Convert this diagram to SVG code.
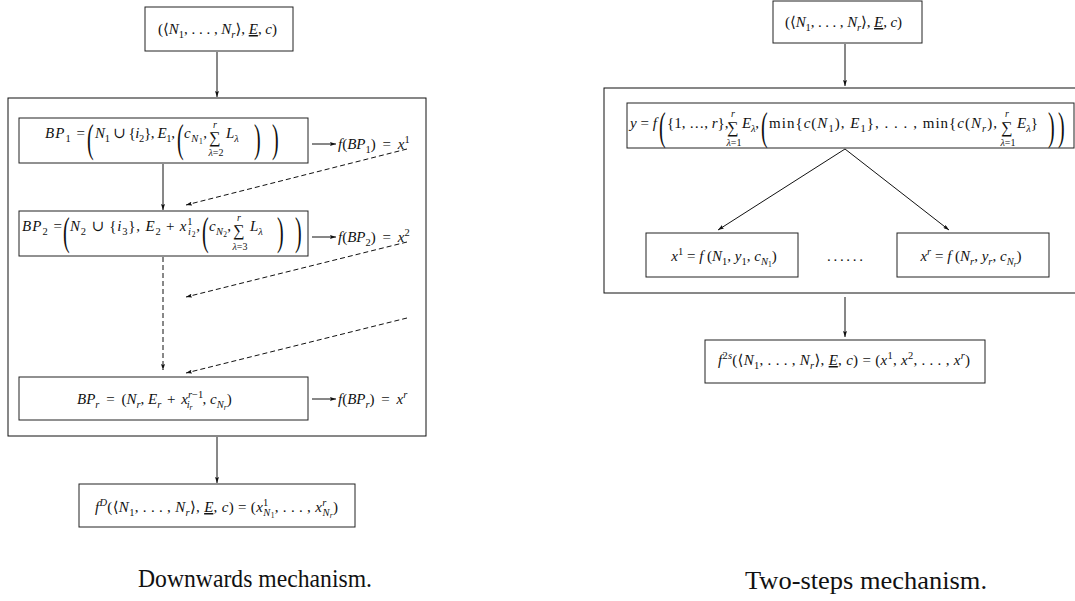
<svg xmlns="http://www.w3.org/2000/svg" width="1075" height="601" viewBox="0 0 1075 601">
<style>
.m{font-family:"Liberation Serif","DejaVu Serif",serif;font-size:15px;fill:#111}
.i{font-style:italic}
.s{font-size:10.5px}
.t{font-size:7.5px}
.lim{font-size:10px;text-anchor:middle}
.sum{font-size:16px;text-anchor:middle}
.big{font-size:40px}
.c{text-anchor:middle}
.box{fill:#fff;stroke:#222;stroke-width:1}
.ob{fill:none;stroke:#111;stroke-width:1}
.ln{stroke:#111;stroke-width:1;fill:none}
.d{stroke-dasharray:5 3}
.cap{font-family:"Liberation Serif","DejaVu Serif",serif;font-size:25px;fill:#111}
</style>
<defs>
<marker id="a" viewBox="0 0 6 4" refX="6" refY="2" markerWidth="6" markerHeight="4" markerUnits="userSpaceOnUse" orient="auto"><path d="M0,0 L6,2 L0,4 L1,2z" fill="#111"/></marker>
</defs>

<g id="left-outer"><rect class="ob" x="8" y="98" width="418" height="338"/></g>
<g id="right-outer"><rect class="ob" x="604" y="88" width="480" height="205"/></g>

<g id="connectors">
<line class="ln" x1="217" y1="52" x2="217" y2="97" marker-end="url(#a)"/>
<line class="ln" x1="163" y1="164" x2="163" y2="210" marker-end="url(#a)"/>
<line class="ln" x1="312" y1="144" x2="336" y2="144" marker-end="url(#a)"/>
<line class="ln" x1="312" y1="237" x2="336" y2="237" marker-end="url(#a)"/>
<line class="ln" x1="312" y1="399" x2="336" y2="399" marker-end="url(#a)"/>
<line class="ln d" x1="407" y1="149" x2="186" y2="205" marker-end="url(#a)"/>
<line class="ln d" x1="407" y1="242" x2="186" y2="297" marker-end="url(#a)"/>
<line class="ln d" x1="163" y1="257" x2="163" y2="370" marker-end="url(#a)"/>
<line class="ln d" x1="407" y1="318" x2="186" y2="373" marker-end="url(#a)"/>
<line class="ln" x1="217" y1="437" x2="217" y2="483" marker-end="url(#a)"/>
<line class="ln" x1="845" y1="44" x2="845" y2="86" marker-end="url(#a)"/>
<line class="ln" x1="845" y1="149" x2="718" y2="230" marker-end="url(#a)"/>
<line class="ln" x1="845" y1="149" x2="949" y2="230" marker-end="url(#a)"/>
<line class="ln" x1="845" y1="297" x2="845" y2="337" marker-end="url(#a)"/>
</g>

<g id="l-input">
<rect class="box" x="145" y="7" width="148" height="44"/>
<text class="m" x="158" y="34" textLength="119">(⟨<tspan class="i">N</tspan><tspan class="s" dy="4">1</tspan><tspan dy="-4">, . . . , </tspan><tspan class="i">N</tspan><tspan class="s i" dy="4">r</tspan><tspan dy="-4">⟩, </tspan><tspan class="i" text-decoration="underline">E</tspan>, <tspan class="i">c</tspan>)</text>
</g>

<g id="bp1">
<rect class="box" x="19" y="118" width="289" height="45"/>
<text class="m" x="45" y="138" textLength="40"><tspan class="i">BP</tspan><tspan class="s" dy="4">1</tspan><tspan dy="-4"> =</tspan></text>
<text class="m big" transform="translate(87,152) scale(0.5,1)">(</text>
<text class="m" x="95" y="138" textLength="80"><tspan class="i">N</tspan><tspan class="s" dy="4">1</tspan><tspan dy="-4"> ∪ {</tspan><tspan class="i">i</tspan><tspan class="s" dy="4">2</tspan><tspan dy="-4">}, </tspan><tspan class="i">E</tspan><tspan class="s" dy="4">1</tspan><tspan dy="-4">,</tspan></text>
<text class="m big" transform="translate(177,152) scale(0.5,1)">(</text>
<text class="m" x="184" y="138" textLength="23"><tspan class="i">c</tspan><tspan class="s i" dy="4">N</tspan><tspan class="t" dy="2">1</tspan><tspan dy="-6">,</tspan></text>
<text class="m sum" x="215" y="143">∑</text>
<text class="m lim i" x="215" y="128">r</text>
<text class="m lim" x="216" y="156"><tspan class="i">λ</tspan>=2</text>
<text class="m" x="226" y="138"><tspan class="i">L</tspan><tspan class="s i" dy="4">λ</tspan></text>
<text class="m big" transform="translate(254,152) scale(0.5,1)">)</text>
<text class="m big" transform="translate(272,152) scale(0.5,1)">)</text>
</g>
<g id="fbp1"><text class="m" x="338" y="149"><tspan class="i">f</tspan>(<tspan class="i">BP</tspan><tspan class="s" dy="4">1</tspan><tspan dy="-4">)</tspan><tspan dx="3"> = </tspan><tspan class="i" dx="3">x</tspan><tspan class="s" dy="-6">1</tspan></text></g>

<g id="bp2">
<rect class="box" x="19" y="211" width="289" height="45"/>
<text class="m" x="22" y="231" textLength="40"><tspan class="i">BP</tspan><tspan class="s" dy="4">2</tspan><tspan dy="-4"> =</tspan></text>
<text class="m big" transform="translate(63,245) scale(0.5,1)">(</text>
<text class="m" x="70" y="231" textLength="130"><tspan class="i">N</tspan><tspan class="s" dy="4">2</tspan><tspan dy="-4"> ∪ {</tspan><tspan class="i">i</tspan><tspan class="s" dy="4">3</tspan><tspan dy="-4">}, </tspan><tspan class="i">E</tspan><tspan class="s" dy="4">2</tspan><tspan dy="-4"> + </tspan><tspan class="i">x</tspan><tspan class="s" dy="-6">1</tspan><tspan class="s i" dx="-5.3" dy="10">i</tspan><tspan class="t" dy="2">2</tspan><tspan dy="-6">,</tspan></text>
<text class="m big" transform="translate(202,245) scale(0.5,1)">(</text>
<text class="m" x="209" y="231" textLength="22"><tspan class="i">c</tspan><tspan class="s i" dy="4">N</tspan><tspan class="t" dy="2">2</tspan><tspan dy="-6">,</tspan></text>
<text class="m sum" x="239" y="236">∑</text>
<text class="m lim i" x="239" y="221">r</text>
<text class="m lim" x="240" y="250"><tspan class="i">λ</tspan>=3</text>
<text class="m" x="250" y="231"><tspan class="i">L</tspan><tspan class="s i" dy="4">λ</tspan></text>
<text class="m big" transform="translate(277,245) scale(0.5,1)">)</text>
<text class="m big" transform="translate(295,245) scale(0.5,1)">)</text>
</g>
<g id="fbp2"><text class="m" x="338" y="242"><tspan class="i">f</tspan>(<tspan class="i">BP</tspan><tspan class="s" dy="4">2</tspan><tspan dy="-4">)</tspan><tspan dx="3"> = </tspan><tspan class="i" dx="3">x</tspan><tspan class="s" dy="-6">2</tspan></text></g>

<g id="bpr">
<rect class="box" x="19" y="377" width="289" height="43"/>
<text class="m" x="77" y="404"><tspan class="i">BP</tspan><tspan class="s i" dy="4">r</tspan><tspan dy="-4" dx="3"> = </tspan><tspan dx="3">(</tspan><tspan class="i">N</tspan><tspan class="s i" dy="4">r</tspan><tspan dy="-4">, </tspan><tspan class="i">E</tspan><tspan class="s i" dy="4">r</tspan><tspan dy="-4" dx="2"> + </tspan><tspan class="i" dx="2">x</tspan><tspan class="s" dy="-6"><tspan class="i">r</tspan>−1</tspan><tspan class="s i" dx="-16.5" dy="10">i</tspan><tspan class="t i" dy="2">r</tspan><tspan dx="10" dy="-6">, </tspan><tspan class="i">c</tspan><tspan class="s i" dy="4">N</tspan><tspan class="t i" dy="2">r</tspan><tspan dy="-6">)</tspan></text>
</g>
<g id="fbpr"><text class="m" x="338" y="404"><tspan class="i">f</tspan>(<tspan class="i">BP</tspan><tspan class="s i" dy="4">r</tspan><tspan dy="-4">)</tspan><tspan dx="3"> = </tspan><tspan class="i" dx="3">x</tspan><tspan class="s i" dy="-6">r</tspan></text></g>

<g id="l-result">
<rect class="box" x="79" y="484" width="276" height="43"/>
<text class="m" x="95" y="512" textLength="243"><tspan class="i">f</tspan><tspan class="s i" dy="-6">D</tspan><tspan dy="6">(⟨</tspan><tspan class="i">N</tspan><tspan class="s" dy="4">1</tspan><tspan dy="-4">, . . . , </tspan><tspan class="i">N</tspan><tspan class="s i" dy="4">r</tspan><tspan dy="-4">⟩, </tspan><tspan class="i" text-decoration="underline">E</tspan>, <tspan class="i">c</tspan>) = (<tspan class="i">x</tspan><tspan class="s" dy="-6">1</tspan><tspan class="s i" dx="-5.3" dy="10">N</tspan><tspan class="t" dy="2">1</tspan><tspan dy="-6">, . . . , </tspan><tspan class="i">x</tspan><tspan class="s i" dy="-6">r</tspan><tspan class="s i" dx="-4.1" dy="10">N</tspan><tspan class="t i" dy="2">r</tspan><tspan dy="-6">)</tspan></text>
</g>

<text class="cap" x="138" y="587" textLength="234" lengthAdjust="spacingAndGlyphs">Downwards mechanism.</text>

<g id="r-input">
<rect class="box" x="773" y="1" width="149" height="42"/>
<text class="m" x="785" y="27" textLength="117">(⟨<tspan class="i">N</tspan><tspan class="s" dy="4">1</tspan><tspan dy="-4">, . . . , </tspan><tspan class="i">N</tspan><tspan class="s i" dy="4">r</tspan><tspan dy="-4">⟩, </tspan><tspan class="i" text-decoration="underline">E</tspan>, <tspan class="i">c</tspan>)</text>
</g>

<g id="y-node">
<rect class="box" x="627" y="103" width="447" height="45"/>
<text class="m" x="630" y="128" textLength="27"><tspan class="i">y</tspan> = <tspan class="i">f</tspan></text>
<text class="m big" transform="translate(659,140) scale(0.5,1)">(</text>
<text class="m" x="667" y="128" font-size="14">{1, …, <tspan class="i">r</tspan>},</text>
<text class="m sum" x="733" y="133">∑</text>
<text class="m lim i" x="733" y="117">r</text>
<text class="m lim" x="734" y="146"><tspan class="i">λ</tspan>=1</text>
<text class="m" x="742" y="128" textLength="17"><tspan class="i">E</tspan><tspan class="s i" dy="4">λ</tspan><tspan dy="-4">,</tspan></text>
<text class="m big" transform="translate(761,140) scale(0.5,1)">(</text>
<text class="m" x="769" y="128" textLength="228">min{<tspan class="i">c</tspan>(<tspan class="i">N</tspan><tspan class="s" dy="4">1</tspan><tspan dy="-4">), </tspan><tspan class="i">E</tspan><tspan class="s" dy="4">1</tspan><tspan dy="-4">}, . . . , min{</tspan><tspan class="i">c</tspan>(<tspan class="i">N</tspan><tspan class="s i" dy="4">r</tspan><tspan dy="-4">),</tspan></text>
<text class="m sum" x="1007" y="133">∑</text>
<text class="m lim i" x="1007" y="117">r</text>
<text class="m lim" x="1008" y="146"><tspan class="i">λ</tspan>=1</text>
<text class="m" x="1017" y="128"><tspan class="i">E</tspan><tspan class="s i" dy="4">λ</tspan><tspan dy="-4">}</tspan></text>
<text class="m big" transform="translate(1048,140) scale(0.5,1)">)</text>
<text class="m big" transform="translate(1058,140) scale(0.5,1)">)</text>
</g>

<g id="x1-node">
<rect class="box" x="646" y="233" width="152" height="44"/>
<text class="m c" x="724" y="261"><tspan class="i">x</tspan><tspan class="s" dy="-6">1</tspan><tspan dy="6"> = </tspan><tspan class="i">f</tspan> (<tspan class="i">N</tspan><tspan class="s" dy="4">1</tspan><tspan dy="-4">, </tspan><tspan class="i">y</tspan><tspan class="s" dy="4">1</tspan><tspan dy="-4">, </tspan><tspan class="i">c</tspan><tspan class="s i" dy="4">N</tspan><tspan class="t" dy="2">1</tspan><tspan dy="-6">)</tspan></text>
</g>
<text class="m" x="827" y="261" textLength="36">. . . . . .</text>
<g id="xr-node">
<rect class="box" x="897" y="233" width="152" height="44"/>
<text class="m c" x="971" y="261"><tspan class="i">x</tspan><tspan class="s i" dy="-6">r</tspan><tspan dy="6"> = </tspan><tspan class="i">f</tspan> (<tspan class="i">N</tspan><tspan class="s i" dy="4">r</tspan><tspan dy="-4">, </tspan><tspan class="i">y</tspan><tspan class="s i" dy="4">r</tspan><tspan dy="-4">, </tspan><tspan class="i">c</tspan><tspan class="s i" dy="4">N</tspan><tspan class="t i" dy="2">r</tspan><tspan dy="-6">)</tspan></text>
</g>

<g id="r-result">
<rect class="box" x="705" y="340" width="280" height="43"/>
<text class="m" x="718" y="365" textLength="252"><tspan class="i">f</tspan><tspan class="s" dy="-6">2<tspan class="i">s</tspan></tspan><tspan dy="6">(⟨</tspan><tspan class="i">N</tspan><tspan class="s" dy="4">1</tspan><tspan dy="-4">, . . . , </tspan><tspan class="i">N</tspan><tspan class="s i" dy="4">r</tspan><tspan dy="-4">⟩, </tspan><tspan class="i" text-decoration="underline">E</tspan>, <tspan class="i">c</tspan>) = (<tspan class="i">x</tspan><tspan class="s" dy="-6">1</tspan><tspan dy="6">, </tspan><tspan class="i">x</tspan><tspan class="s" dy="-6">2</tspan><tspan dy="6">, . . . , </tspan><tspan class="i">x</tspan><tspan class="s i" dy="-6">r</tspan><tspan dy="6">)</tspan></text>
</g>

<text class="cap" x="745" y="589" textLength="242" lengthAdjust="spacingAndGlyphs">Two-steps mechanism.</text>
</svg>
